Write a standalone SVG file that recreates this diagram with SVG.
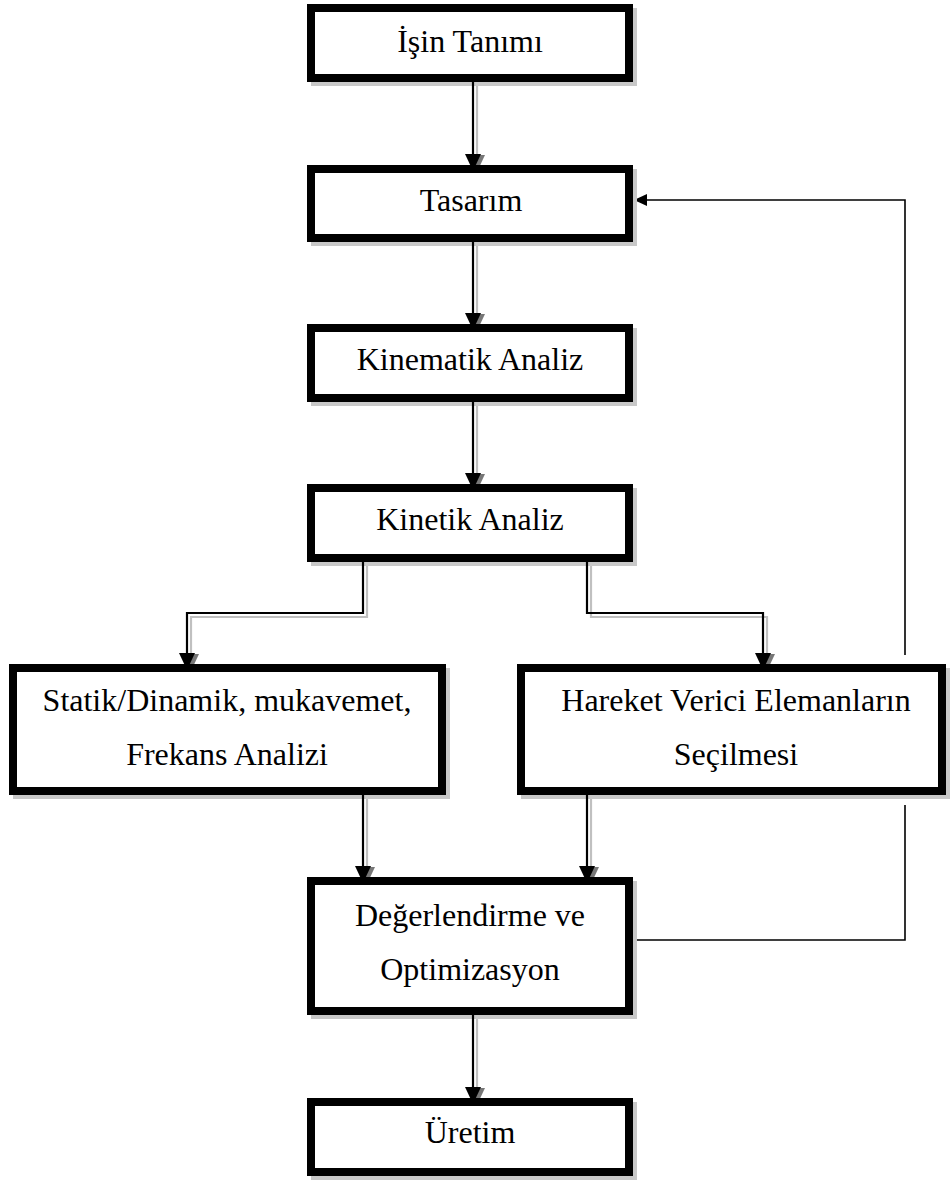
<svg xmlns="http://www.w3.org/2000/svg" width="950" height="1180" viewBox="0 0 950 1180">
<defs>
<style>
.sh{fill:#c8c8c8;stroke:#c8c8c8;stroke-width:8}
.bx{fill:#fff;stroke:#000;stroke-width:8}
.t{font-family:"Liberation Serif","Times New Roman",serif;font-size:32px;fill:#000;text-anchor:middle}
.c{fill:none;stroke:#000;stroke-width:2.2}
.cs{fill:none;stroke:#c0c0c0;stroke-width:2.2}
.fb{fill:none;stroke:#000;stroke-width:1.6}
</style>
<marker id="ah" markerUnits="userSpaceOnUse" markerWidth="17" markerHeight="16" refX="17" refY="8" orient="auto"><path d="M0,0 L17,8 L0,16 z" fill="#000"/></marker>
<marker id="ahs" markerUnits="userSpaceOnUse" markerWidth="17" markerHeight="16" refX="17" refY="8" orient="auto"><path d="M0,0 L17,8 L0,16 z" fill="#777"/></marker>
</defs>
<g id="connectors">
<path class="fb" d="M633,940 H905 V805"/>
<path class="fb" d="M905,655 V200 H646"/>
<path d="M634,200 L647,194 L647,206 z" fill="#000"/>
<g id="shadows">
<path class="cs" d="M477,82 V172" marker-end="url(#ahs)"/>
<path class="cs" d="M477,242 V331" marker-end="url(#ahs)"/>
<path class="cs" d="M477,402 V491" marker-end="url(#ahs)"/>
<path class="cs" d="M367,562 V617 H191 V671" marker-end="url(#ahs)"/>
<path class="cs" d="M591,562 V617 H767 V671" marker-end="url(#ahs)"/>
<path class="cs" d="M367,795 V884" marker-end="url(#ahs)"/>
<path class="cs" d="M591,795 V884" marker-end="url(#ahs)"/>
<path class="cs" d="M477,1015 V1105" marker-end="url(#ahs)"/>
</g>
</g>
<g id="n1"><rect class="sh" x="315" y="12" width="318" height="70"/><rect class="bx" x="311" y="8" width="318" height="70"/><text class="t" x="470" y="52">İşin Tanımı</text></g>
<g id="n2"><rect class="sh" x="315" y="173" width="318" height="69"/><rect class="bx" x="311" y="169" width="318" height="69"/><text class="t" x="471" y="211">Tasarım</text></g>
<g id="n3"><rect class="sh" x="315" y="332" width="318" height="70"/><rect class="bx" x="311" y="328" width="318" height="70"/><text class="t" x="470" y="370">Kinematik Analiz</text></g>
<g id="n4"><rect class="sh" x="315" y="492" width="318" height="70"/><rect class="bx" x="311" y="488" width="318" height="70"/><text class="t" x="470" y="530">Kinetik Analiz</text></g>
<g id="n5"><rect class="sh" x="17" y="672" width="429" height="123"/><rect class="bx" x="13" y="668" width="429" height="123"/><text class="t" x="227" y="711">Statik/Dinamik, mukavemet,</text><text class="t" x="227" y="765">Frekans Analizi</text></g>
<g id="n6"><rect class="sh" x="525" y="672" width="421" height="123"/><rect class="bx" x="521" y="668" width="421" height="123"/><text class="t" x="736" y="711">Hareket Verici Elemanların</text><text class="t" x="736" y="765">Seçilmesi</text></g>
<g id="n7"><rect class="sh" x="315" y="885" width="318" height="130"/><rect class="bx" x="311" y="881" width="318" height="130"/><text class="t" x="470" y="926">Değerlendirme ve</text><text class="t" x="470" y="980">Optimizasyon</text></g>
<g id="n8"><rect class="sh" x="315" y="1106" width="318" height="70"/><rect class="bx" x="311" y="1102" width="318" height="70"/><text class="t" x="470" y="1143">Üretim</text></g>
<g id="connectors-front">
<path class="c" d="M473,82 V171" marker-end="url(#ah)"/>
<path class="c" d="M473,242 V330" marker-end="url(#ah)"/>
<path class="c" d="M473,402 V490" marker-end="url(#ah)"/>
<path class="c" d="M363,562 V613 H187 V670" marker-end="url(#ah)"/>
<path class="c" d="M587,562 V613 H763 V670" marker-end="url(#ah)"/>
<path class="c" d="M363,795 V883" marker-end="url(#ah)"/>
<path class="c" d="M587,795 V883" marker-end="url(#ah)"/>
<path class="c" d="M473,1015 V1104" marker-end="url(#ah)"/>
</g>
</svg>
